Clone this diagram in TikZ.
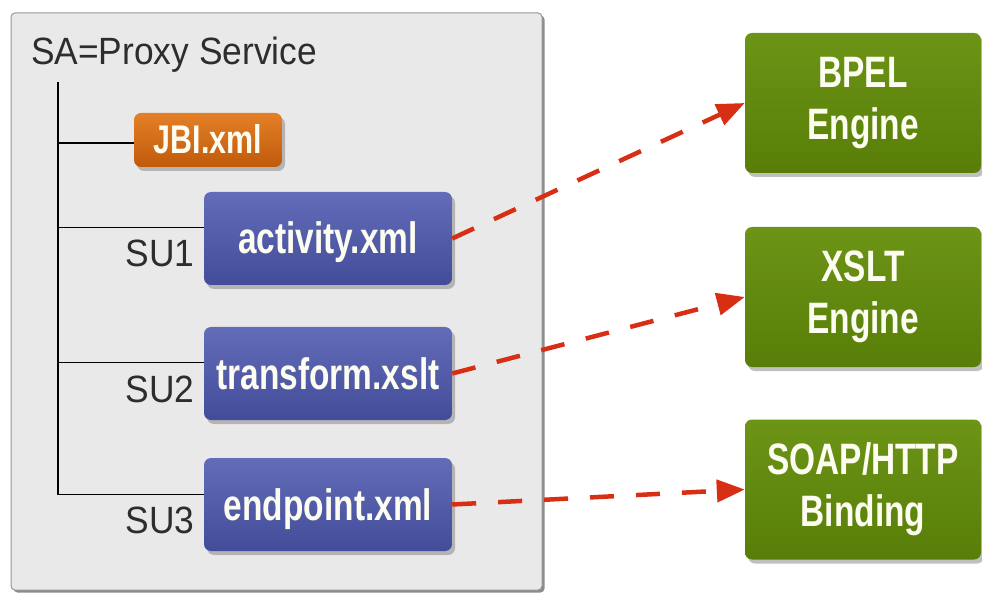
\documentclass[tikz,border=0pt]{standalone}
\usepackage{fontspec}
\setmainfont{Liberation Sans}
\newfontfamily\labelfont[FakeStretch=0.93]{Liberation Sans}
\newfontfamily\tilefont[FakeStretch=0.76]{Liberation Sans}
\usepackage{tikz}
\usetikzlibrary{arrows.meta,shadows}

\definecolor{saGray}{RGB}{233,233,233}
\definecolor{saEdge}{RGB}{150,150,150}
\definecolor{labelText}{RGB}{45,45,45}
\definecolor{tileText}{RGB}{252,252,240}
\definecolor{jbiTop}{RGB}{228,128,38}
\definecolor{jbiBot}{RGB}{192,90,12}
\definecolor{suTop}{RGB}{98,108,184}
\definecolor{suBot}{RGB}{66,76,152}
\definecolor{engTop}{RGB}{108,148,22}
\definecolor{engBot}{RGB}{88,126,8}
\definecolor{linkRed}{RGB}{216,46,20}

\begin{document}
\begin{tikzpicture}[x=1pt, y=-1pt,
    sabox/.style={rectangle, rounded corners=4pt, draw=saEdge, line width=1pt, fill=saGray,
        minimum width=531pt, minimum height=577pt,
        drop shadow={shadow xshift=2.5pt, shadow yshift=-2.5pt, opacity=0.9}},
    plain/.style={text=labelText, inner sep=0pt, font=\labelfont\fontsize{38}{44}\selectfont},
    tile/.style={shape=rectangle, rounded corners=7pt, align=center, text=tileText, inner sep=0pt,
        font=\tilefont\bfseries\fontsize{44}{52}\selectfont,
        drop shadow={shadow xshift=3pt, shadow yshift=-4pt, opacity=0.5}},
    jbitile/.style={tile, top color=jbiTop, bottom color=jbiBot, minimum width=148pt, minimum height=54pt,
        text height=28pt, text depth=0pt, font=\tilefont\bfseries\fontsize{40}{44}\selectfont},
    sutile/.style={tile, top color=suTop, bottom color=suBot, minimum width=248pt, minimum height=93pt,
        text height=31pt, text depth=0pt},
    enginetile/.style={tile, top color=engTop, bottom color=engBot, minimum width=236pt, minimum height=140pt},
    branch/.style={draw=black, line width=1.2pt},
    link/.style={draw=linkRed, line width=4.5pt, dash pattern=on 24pt off 22pt,
        -{Triangle[length=28pt,width=22pt]}}]
\useasboundingbox (0,0) rectangle (982,593);

\node[sabox] (sa) at (276.5,301.5) {};
\node[plain, anchor=base west] (title) at (31,65) {SA=Proxy Service};
\coordinate (root) at (58,82);

\node[jbitile] (jbi) at (208,140) {JBI.xml};
\node[sutile] (act) at (328,238.5) {activity.xml};
\node[sutile] (trans) at (328,373.5) {transform.xslt};
\node[sutile] (endp) at (328,504.5) {endpoint.xml};

\node[plain, anchor=base east] (su1) at ([xshift=-9pt,yshift=-28.5pt]act.west) {SU1};
\node[plain, anchor=base east] (su2) at ([xshift=-9pt,yshift=-28.5pt]trans.west) {SU2};
\node[plain, anchor=base east] (su3) at ([xshift=-9pt,yshift=-28.5pt]endp.west) {SU3};

\draw[branch] (root) |- ([yshift=-3pt]jbi.west);
\draw[branch] (root) |- ([yshift=11pt]act.west);
\draw[branch] (root) |- ([yshift=11pt]trans.west);
\draw[branch] (root) |- ([yshift=10pt]endp.west);

\node[enginetile] (bpel) at (863,103) {BPEL\\Engine};
\node[enginetile] (xslt) at (863,297) {XSLT\\Engine};
\node[enginetile] (soap) at (863,489.5) {SOAP/HTTP\\Binding};

\draw[link] (act.east) -- (bpel.west);
\draw[link] (trans.east) -- (xslt.west);
\draw[link] (endp.east) -- (soap.west);
\end{tikzpicture}
\end{document}
